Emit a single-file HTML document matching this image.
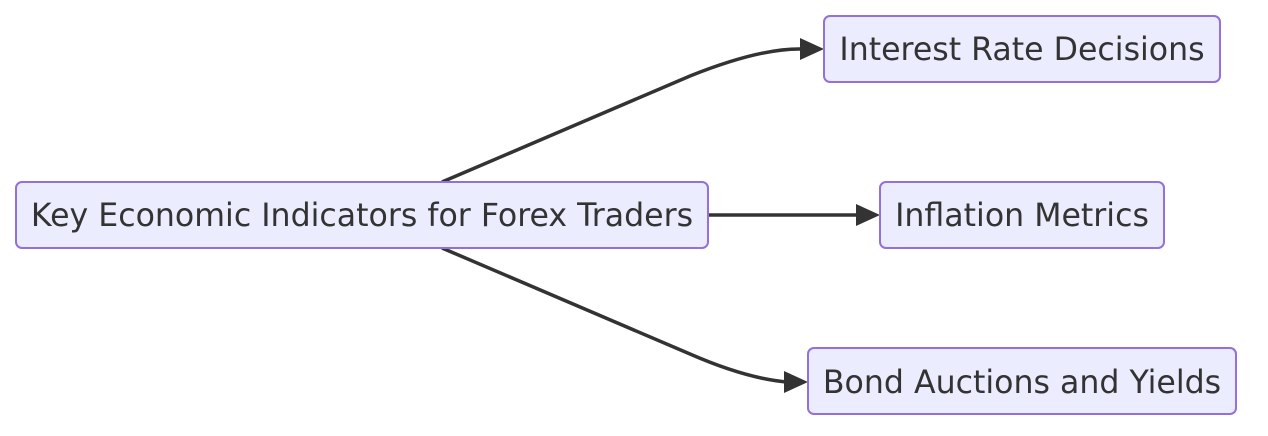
<!DOCTYPE html>
<html><head><meta charset="utf-8"><style>
html,body{margin:0;padding:0;background:#fff;}
svg{display:block;}
text{font-family:"DejaVu Sans","Liberation Sans",sans-serif;font-size:31.6px;fill:#333;}
</style></head><body>
<svg width="1268" height="436" viewBox="0 0 1268 436">
<g fill="none" stroke="#333" stroke-width="3.5">
<path d="M442,182 L690,76 Q760,48 802,49"/>
<path d="M708,215 L858,215"/>
<path d="M442,248 L690,354 Q745,378 786,382"/>
</g>
<g fill="#333">
<polygon points="800,38 824,49 800,60"/>
<polygon points="856,204 880,215 856,226"/>
<polygon points="784,371 808,382 784,393"/>
</g>
<g fill="#ECECFF" stroke="#9370DB" stroke-width="2">
<rect x="16" y="182" width="692" height="66" rx="6"/>
<rect x="824" y="16" width="396" height="66" rx="6"/>
<rect x="880" y="182" width="284" height="66" rx="6"/>
<rect x="808" y="348" width="428" height="66" rx="6"/>
</g>
<g text-anchor="middle">
<text x="362" y="226">Key Economic Indicators for Forex Traders</text>
<text x="1022" y="60">Interest Rate Decisions</text>
<text x="1022" y="226">Inflation Metrics</text>
<text x="1022" y="393">Bond Auctions and Yields</text>
</g>
</svg>
</body></html>
